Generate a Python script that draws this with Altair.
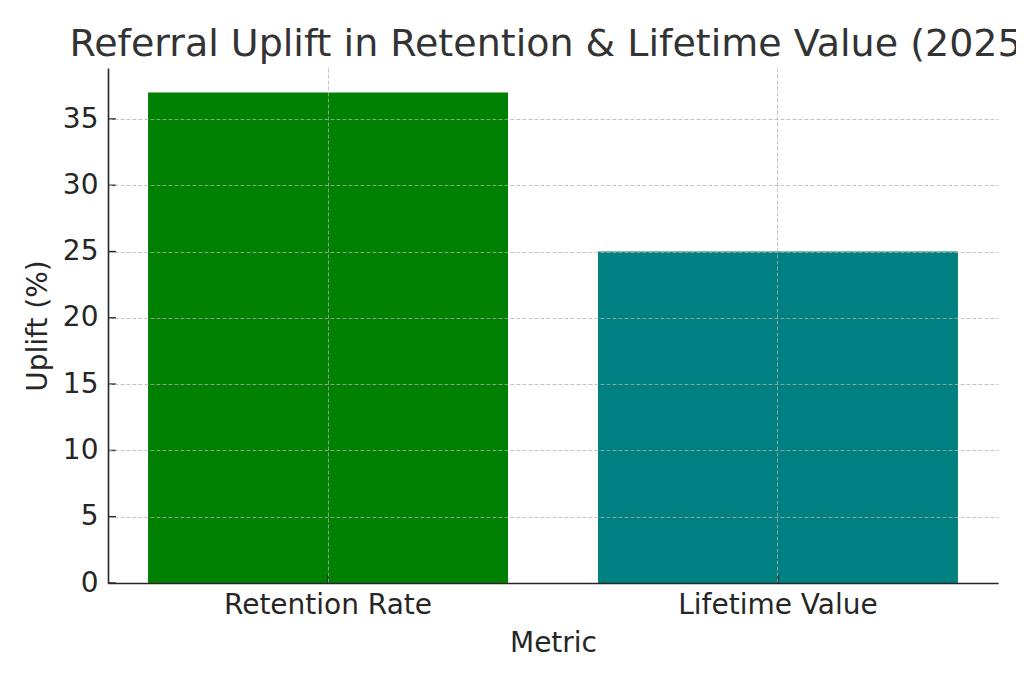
import altair as alt
import pandas as pd

# ─────────────────────────────────────────────────────────────
# DATI
# ─────────────────────────────────────────────────────────────
metriche = ["Retention Rate", "Lifetime Value"]
uplift = [37, 25]
colori = ["#008000", "#008080"]
y_ticks = [0, 5, 10, 15, 20, 25, 30, 35]

df = pd.DataFrame({"Metric": metriche, "Uplift": uplift})
df_yticks = pd.DataFrame({"v": y_ticks})

FONT = "DejaVu Sans"
SCURO = "#262626"

x_scale = alt.Scale(domain=metriche, paddingInner=0.2, paddingOuter=0.089)
y_scale = alt.Scale(domain=[0, 38.85], nice=False, zero=True)

# ─────────────────────────────────────────────────────────────
# BARRE
# ─────────────────────────────────────────────────────────────
barre = (
    alt.Chart(df)
    .mark_bar()
    .encode(
        x=alt.X(
            "Metric:N",
            scale=x_scale,
            sort=metriche,
            title="Metric",
            axis=alt.Axis(
                labelAngle=0,
                labelFontSize=28,
                titleFontSize=28,
                labelPadding=8,
                labelLimit=0,
                titlePadding=10,
                ticks=False,
                tickSize=0,
                grid=True,
                bandPosition=0.5,
                zindex=1,
            ),
        ),
        y=alt.Y(
            "Uplift:Q",
            scale=y_scale,
            title="Uplift (%)",
            axis=alt.Axis(
                values=y_ticks,
                labelFontSize=28,
                titleFontSize=28,
                labelPadding=10,
                titlePadding=10,
                ticks=False,
                tickSize=0,
                grid=True,
                zindex=1,
            ),
        ),
        color=alt.Color(
            "Metric:N",
            scale=alt.Scale(domain=metriche, range=colori),
            legend=None,
        ),
    )
)

# tacche interne (verso il grafico), come nell'originale
tacche_y = (
    alt.Chart(df_yticks)
    .mark_rule(color=SCURO, strokeWidth=1.5)
    .encode(y=alt.Y("v:Q", scale=y_scale), x=alt.value(0), x2=alt.value(8))
)

tacche_x = (
    alt.Chart(df)
    .mark_rule(color=SCURO, strokeWidth=1.5)
    .encode(x=alt.X("Metric:N", scale=x_scale, sort=metriche), y=alt.value(507), y2=alt.value(515))
)

chart = (
    alt.layer(barre, tacche_y, tacche_x)
    .properties(
        width=890,
        height=515,
        autosize=alt.AutoSizeParams(type="none"),
        padding={"left": 100, "top": 60, "right": 18, "bottom": 90},
        title=alt.TitleParams(
            "Referral Uplift in Retention & Lifetime Value (2025)",
            fontSize=38,
            font=FONT,
            fontWeight="normal",
            color="#333333",
            anchor="middle",
            frame="group",
            offset=4,
        ),
    )
    .configure_view(stroke=None)
    .configure_axis(
        labelFont=FONT,
        titleFont=FONT,
        labelColor=SCURO,
        titleColor=SCURO,
        titleFontWeight="normal",
        domainColor=SCURO,
        domainWidth=1.6,
        gridColor="#b0b0b0",
        gridOpacity=0.75,
        gridDash=[4, 2],
        gridWidth=1,
    )
)

chart.save("out.html", embed_options={"renderer": "svg", "actions": False})
